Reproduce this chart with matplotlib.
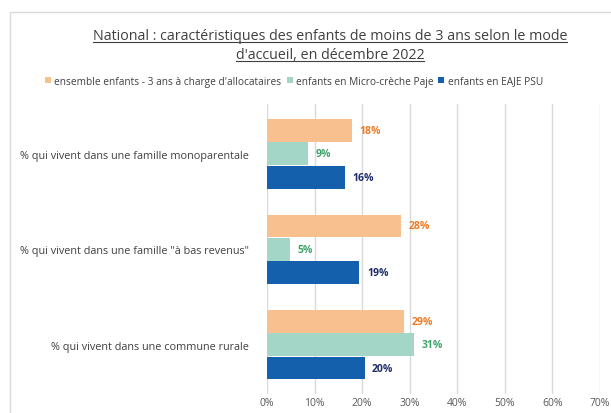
import matplotlib.pyplot as plt
import matplotlib.ticker as mticker
from matplotlib.patches import Rectangle
import numpy as np

# donnees
categories = ["% qui vivent dans une famille monoparentale",
              "% qui vivent dans une famille \"à bas revenus\"",
              "% qui vivent dans une commune rurale"]
ensemble = [0.179, 0.282, 0.288]
micro_creche = [0.087, 0.049, 0.309]
eaje_psu = [0.164, 0.194, 0.205]
series_names = ["ensemble enfants - 3 ans à charge d'allocataires",
                "enfants en Micro-crèche Paje",
                "enfants en EAJE PSU"]

bar_colors = ["#F9C08F", "#A4D6C7", "#1460AC"]
label_colors = ["#EE7A22", "#3CA46A", "#1F2D6B"]

plt.rcParams['font.family'] = ['Open Sans', 'DejaVu Sans']

fig = plt.figure(figsize=(6.11, 4.14), dpi=100)
ax = fig.add_axes([0.437, 0.045, 0.545, 0.701])

# cadre du graphique
fig.patches.append(Rectangle((10 / 611, -0.05), 1.1, 1 - 13 / 414 + 0.05,
                             transform=fig.transFigure, fill=False,
                             edgecolor="#D9D9D9", linewidth=1))

y = np.arange(len(categories))
h = 0.245
data = [ensemble, micro_creche, eaje_psu]
for i, vals in enumerate(data):
    pos = y + (i - 1) * h
    ax.barh(pos, vals, height=h * 0.97, color=bar_colors[i], label=series_names[i], zorder=3)
    for p, v in zip(pos, vals):
        ax.text(v + 0.016, p, f"{round(v * 100):.0f}%", va="center", ha="left",
                fontsize=7.5, fontweight="bold", color=label_colors[i])

ax.set_xlim(0, 0.7)
ax.set_ylim(2.52, -0.52)
ax.xaxis.set_major_locator(mticker.MultipleLocator(0.1))
ax.xaxis.set_major_formatter(mticker.PercentFormatter(1.0, decimals=0))
ax.set_yticks(y)
ax.set_yticklabels(categories)
ax.tick_params(axis="y", length=0, pad=13, labelsize=7.8, labelcolor="#404040")
ax.tick_params(axis="x", length=0, pad=2, labelsize=7.5, labelcolor="#595959")
ax.grid(axis="x", color="#D9D9D9", linewidth=1, zorder=0)
for s in ax.spines.values():
    s.set_visible(False)

# titre souligne
lines = ["National : caractéristiques des enfants de moins de 3 ans selon le mode",
         "d'accueil, en décembre 2022"]
ty = [1 - 37 / 414, 1 - 56 / 414]
fig.canvas.draw()
r = fig.canvas.get_renderer()
for t, yy in zip(lines, ty):
    txt = fig.text(330 / 611, yy, t, ha="center", va="center", fontsize=10.3, color="#404040")
    bb = txt.get_window_extent(r).transformed(fig.transFigure.inverted())
    fig.add_artist(plt.Line2D([bb.x0, bb.x1], [bb.y0 + 0.004, bb.y0 + 0.004],
                              transform=fig.transFigure, color="#404040", linewidth=0.8))

leg = fig.legend(loc="center", bbox_to_anchor=(294 / 611, 1 - 82 / 414), ncol=3,
                 frameon=False, fontsize=7.3, handlelength=0.6, handleheight=0.6,
                 handletextpad=0.3, columnspacing=0.5)
for t in leg.get_texts():
    t.set_color("#404040")

fig.savefig("out.png", dpi=100)
